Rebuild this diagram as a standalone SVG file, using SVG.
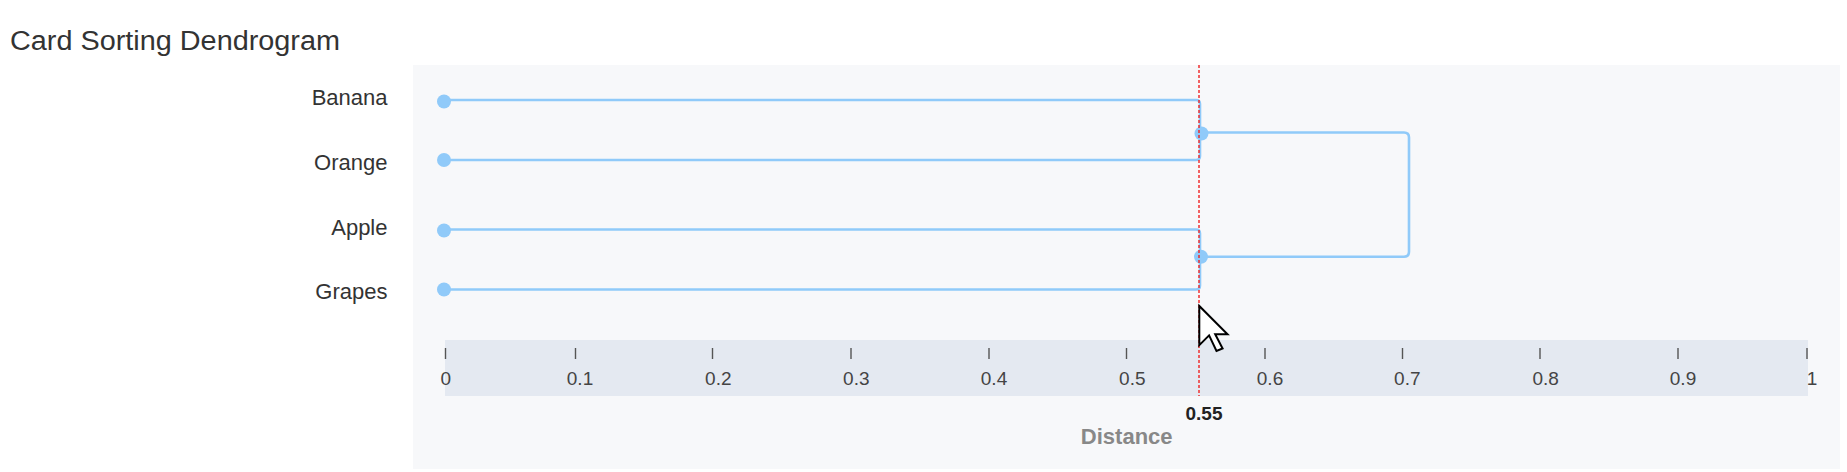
<svg xmlns="http://www.w3.org/2000/svg" width="1847" height="472" viewBox="0 0 1847 472">
  <style>
    text { font-family: "Liberation Sans", Arial, sans-serif; }
    .title { font-size: 27px; fill: #333333; }
    .leaf-label { font-size: 22px; fill: #333333; text-anchor: end; }
    .tick-label { font-size: 19px; fill: #444444; text-anchor: middle; }
    .tick { stroke: #555555; stroke-width: 1.4; }
    .link { fill: none; stroke: #90caf9; stroke-width: 2.6; stroke-linejoin: round; }
    .dot { fill: #90caf9; }
    .cut { stroke: #ee2222; stroke-width: 1.4; stroke-dasharray: 3 2; }
    .cut-label { font-size: 19px; font-weight: bold; fill: #222222; text-anchor: middle; }
    .axis-title { font-size: 22px; font-weight: bold; fill: #888888; text-anchor: middle; }
  </style>

  <rect x="0" y="0" width="1847" height="472" fill="#ffffff"/>

  <text class="title" x="10" y="49.5" textLength="330" lengthAdjust="spacingAndGlyphs">Card Sorting Dendrogram</text>

  <!-- chart panel -->
  <rect id="panel" x="413" y="65" width="1427" height="404" fill="#f7f8fa"/>

  <!-- axis band -->
  <g id="axis">
    <rect x="445" y="340" width="1363" height="56" fill="#e4e9f1"/>
    <line class="tick" x1="445.5" y1="348" x2="445.5" y2="359"/>
    <line class="tick" x1="575.5" y1="348" x2="575.5" y2="359"/>
    <line class="tick" x1="712.5" y1="348" x2="712.5" y2="359"/>
    <line class="tick" x1="851" y1="348" x2="851" y2="359"/>
    <line class="tick" x1="989" y1="348" x2="989" y2="359"/>
    <line class="tick" x1="1126.5" y1="348" x2="1126.5" y2="359"/>
    <line class="tick" x1="1265" y1="348" x2="1265" y2="359"/>
    <line class="tick" x1="1402.5" y1="348" x2="1402.5" y2="359"/>
    <line class="tick" x1="1540" y1="348" x2="1540" y2="359"/>
    <line class="tick" x1="1678" y1="348" x2="1678" y2="359"/>
    <line class="tick" x1="1807" y1="348" x2="1807" y2="359"/>
    <text class="tick-label" x="445.7" y="384.5">0</text>
    <text class="tick-label" x="580" y="384.5">0.1</text>
    <text class="tick-label" x="718.3" y="384.5">0.2</text>
    <text class="tick-label" x="856.3" y="384.5">0.3</text>
    <text class="tick-label" x="994" y="384.5">0.4</text>
    <text class="tick-label" x="1132.3" y="384.5">0.5</text>
    <text class="tick-label" x="1270" y="384.5">0.6</text>
    <text class="tick-label" x="1407.3" y="384.5">0.7</text>
    <text class="tick-label" x="1545.7" y="384.5">0.8</text>
    <text class="tick-label" x="1683" y="384.5">0.9</text>
    <text class="tick-label" x="1812" y="384.5">1</text>
    <text class="axis-title" x="1126.7" y="443.5">Distance</text>
  </g>

  <!-- connectors -->
  <g id="connectors">
    <path class="link" d="M444,100 H1196 Q1200,100 1200,104 V156 Q1200,160 1196,160 H444"/>
    <path class="link" d="M444,229.5 H1196 Q1200,229.5 1200,233.5 V285.5 Q1200,289.5 1196,289.5 H444"/>
    <path class="link" d="M1201,132.5 H1404 Q1409,132.5 1409,137.5 V251.7 Q1409,256.7 1404,256.7 H1201"/>
  </g>

  <!-- leaf nodes -->
  <g id="node-banana">
    <text class="leaf-label" x="387.5" y="105">Banana</text>
    <circle class="dot" cx="444" cy="101.5" r="7"/>
  </g>
  <g id="node-orange">
    <text class="leaf-label" x="387.5" y="169.5">Orange</text>
    <circle class="dot" cx="444" cy="160" r="7"/>
  </g>
  <g id="node-apple">
    <text class="leaf-label" x="387.5" y="234.5">Apple</text>
    <circle class="dot" cx="444" cy="230.5" r="7"/>
  </g>
  <g id="node-grapes">
    <text class="leaf-label" x="387.5" y="298.5">Grapes</text>
    <circle class="dot" cx="444" cy="289.5" r="7"/>
  </g>

  <!-- internal nodes -->
  <g id="node-banana-orange">
    <circle class="dot" cx="1201.5" cy="133.5" r="7"/>
  </g>
  <g id="node-apple-grapes">
    <circle class="dot" cx="1201" cy="256.7" r="7"/>
  </g>

  <!-- cut line -->
  <g id="cut-line">
    <line class="cut" x1="1199" y1="65" x2="1199" y2="396"/>
    <text class="cut-label" x="1204" y="419.5">0.55</text>
  </g>

  <!-- mouse pointer -->
  <g id="pointer">
    <polygon points="1199.3,306 1199.3,345.2 1209.1,335.4 1216.5,351 1222.6,348.5 1215.2,334.2 1227.5,334.2" fill="#ffffff" stroke="#000000" stroke-width="2" stroke-linejoin="miter"/>
  </g>
</svg>
